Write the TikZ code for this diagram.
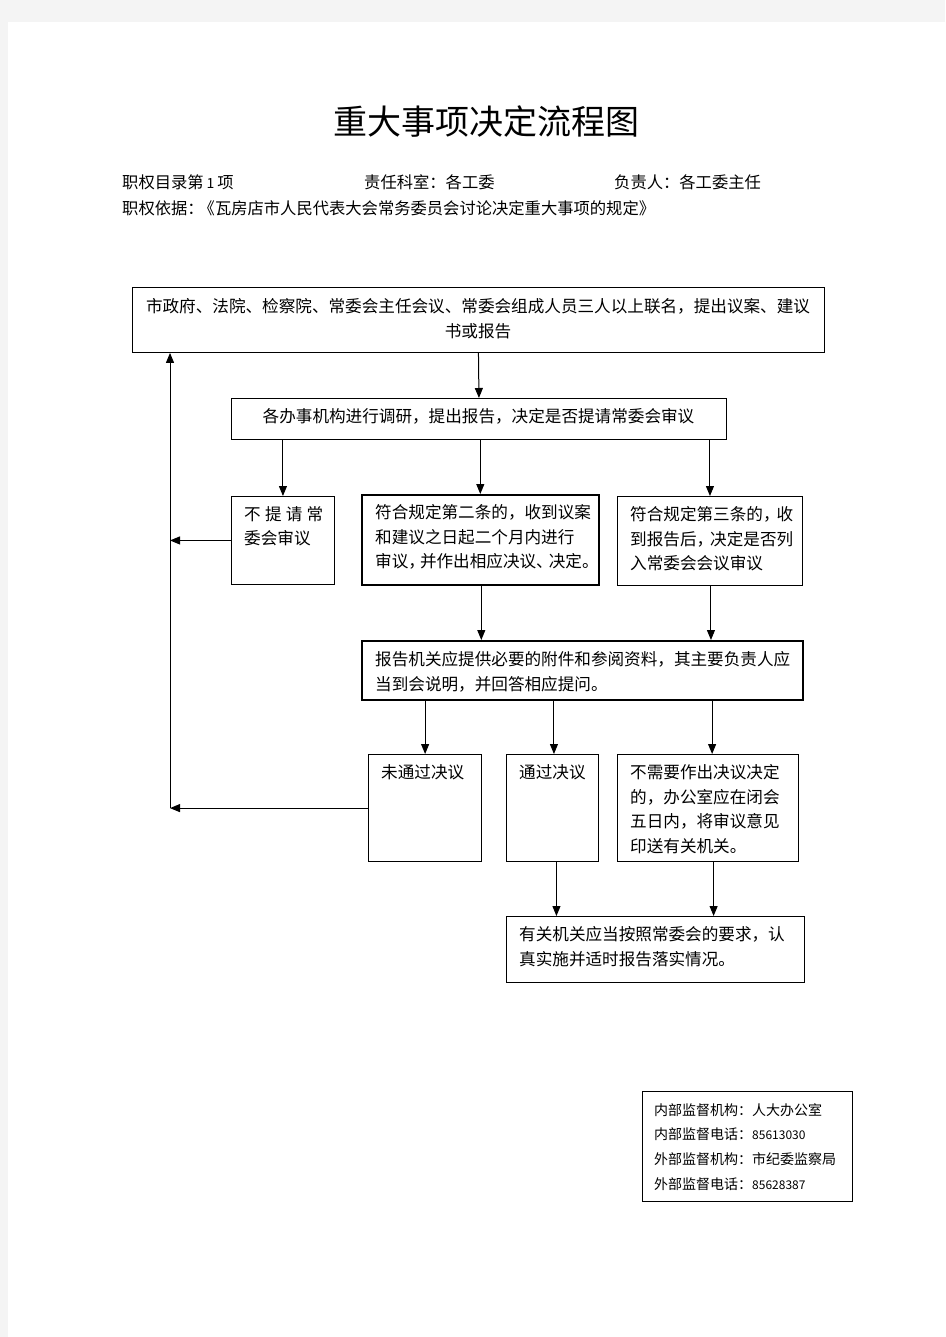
\documentclass[tikz,border=0pt]{standalone}
\usepackage{fontspec}
\setmainfont{Noto Sans CJK SC}
\usetikzlibrary{arrows.meta}
\definecolor{pagebg}{HTML}{F4F4F4}
\tikzset{
  box/.style={draw=black, line width=0.9pt, inner sep=0pt, anchor=north west},
  thickbox/.style={box, line width=1.6pt},
  txt/.style={inner sep=0pt, anchor=north west, align=left, font=\fontsize{16.6pt}{24.8pt}\selectfont},
  ctxt/.style={txt, anchor=north, align=center},
  hdr/.style={inner sep=0pt, anchor=west, font=\fontsize{16.3pt}{20pt}\selectfont},
  sup/.style={inner sep=0pt, anchor=north west, align=left, font=\fontsize{14pt}{24.7pt}\selectfont},
  arr/.style={-{Triangle[length=10pt,width=8pt]}, line width=1pt},
}
\newcommand{\digits}[1]{{\fontsize{12pt}{12pt}\selectfont #1}}
\begin{document}
\begin{tikzpicture}[x=1pt,y=-1pt]
\useasboundingbox (0,0) rectangle (945,1337);
\fill[pagebg] (0,0) rectangle (945,1337);
\fill[white] (8,22) rectangle (945,1337);

% title and header
\node[inner sep=0pt, font=\fontsize{34pt}{40pt}\selectfont] (title) at (486,122) {重大事项决定流程图};
\node[hdr] (h1) at (122,182) {职权目录第\kern3pt{\fontsize{14pt}{14pt}\selectfont 1}\kern3pt 项};
\node[hdr] (h2) at (364,182) {责任科室：各工委};
\node[hdr] (h3) at (614,182) {负责人：各工委主任};
\node[hdr] (h4) at (122,208) {职权依据：\kern-5pt《瓦房店市人民代表大会常务委员会讨论决定重大事项的规定》};

% boxes
\node[box, minimum width=692pt, minimum height=65pt] (b1) at (132,287) {};
\node[box, minimum width=495pt, minimum height=41pt] (b2) at (231,398) {};
\node[box, minimum width=103pt, minimum height=88pt] (b3) at (231,496) {};
\node[thickbox, minimum width=237pt, minimum height=90pt] (b4) at (361,494) {};
\node[box, minimum width=185pt, minimum height=89pt] (b5) at (617,496) {};
\node[thickbox, minimum width=441pt, minimum height=59pt] (b6) at (361,640) {};
\node[box, line width=1.2pt, minimum width=113pt, minimum height=107pt] (b7) at (368,754) {};
\node[box, minimum width=92pt, minimum height=107pt] (b8) at (506,754) {};
\node[box, line width=1.2pt, minimum width=181pt, minimum height=107pt] (b9) at (617,754) {};
\node[box, minimum width=298pt, minimum height=66pt] (b10) at (506,916) {};
\node[box, minimum width=210pt, minimum height=110pt] (sv) at (642,1091) {};

% texts
\node[ctxt] (t1) at (478,298) {市政府、法院、检察院、常委会主任会议、常委会组成人员三人以上联名，提出议案、建议\\书或报告};
\node[ctxt] (t2) at (478.5,408) {各办事机构进行调研，提出报告，决定是否提请常委会审议};
\node[txt] (t3) at (244,506) {\hbox to 79pt{不\hfill 提\hfill 请\hfill 常}\\委会审议};
\node[txt] (t4) at (375,504) {符合规定第二条的，收到议案\\和建议之日起二个月内进行\\审议，\kern-5pt 并作出相应决议、\kern-4pt 决定。};
\node[txt] (t5) at (630,506) {符合规定第三条的，\kern-3pt 收\\到报告后，\kern-3pt 决定是否列\\入常委会会议审议};
\node[txt] (t6) at (375,651) {报告机关应提供必要的附件和参阅资料，其主要负责人应\\当到会说明，并回答相应提问。};
\node[txt] (t7) at (381,764) {未通过决议};
\node[txt] (t8) at (519,764) {通过决议};
\node[txt] (t9) at (630,764) {不需要作出决议决定\\的，办公室应在闭会\\五日内，将审议意见\\印送有关机关。};
\node[txt] (t10) at (519,926) {有关机关应当按照常委会的要求，认\\真实施并适时报告落实情况。};
\node[sup] (t11) at (654,1103) {内部监督机构：人大办公室\\内部监督电话：\digits{85613030}\\外部监督机构：市纪委监察局\\外部监督电话：\digits{85628387}};

% connectors
\coordinate (fbx) at (170,0);
\draw[arr] (b1.south) -- (b2.north);
\draw[arr] (b3.north |- b2.south) -- (b3.north);
\draw[arr] (b4.north |- b2.south) -- (b4.north);
\draw[arr] (b5.north |- b2.south) -- (b5.north);
\draw[arr] ([xshift=1pt]b4.south) -- ([xshift=1pt]b4.south |- b6.north);
\draw[arr] ([xshift=1pt]b5.south) -- ([xshift=1pt]b5.south |- b6.north);
\draw[arr] (b7.north |- b6.south) -- (b7.north);
\draw[arr] ([xshift=1.5pt]b8.north |- b6.south) -- ([xshift=1.5pt]b8.north);
\draw[arr] ([xshift=4pt]b9.north |- b6.south) -- ([xshift=4pt]b9.north);
\draw[arr] ([xshift=4pt]b8.south) -- ([xshift=4pt]b8.south |- b10.north);
\draw[arr] ([xshift=5.5pt]b9.south) -- ([xshift=5.5pt]b9.south |- b10.north);
\draw[arr] (b3.west) -- (b3.west -| fbx);
\draw[arr] (b7.west) -- (b7.west -| fbx);
\draw[arr] (b7.west -| fbx) -- (fbx |- b1.south);
\end{tikzpicture}
\end{document}
